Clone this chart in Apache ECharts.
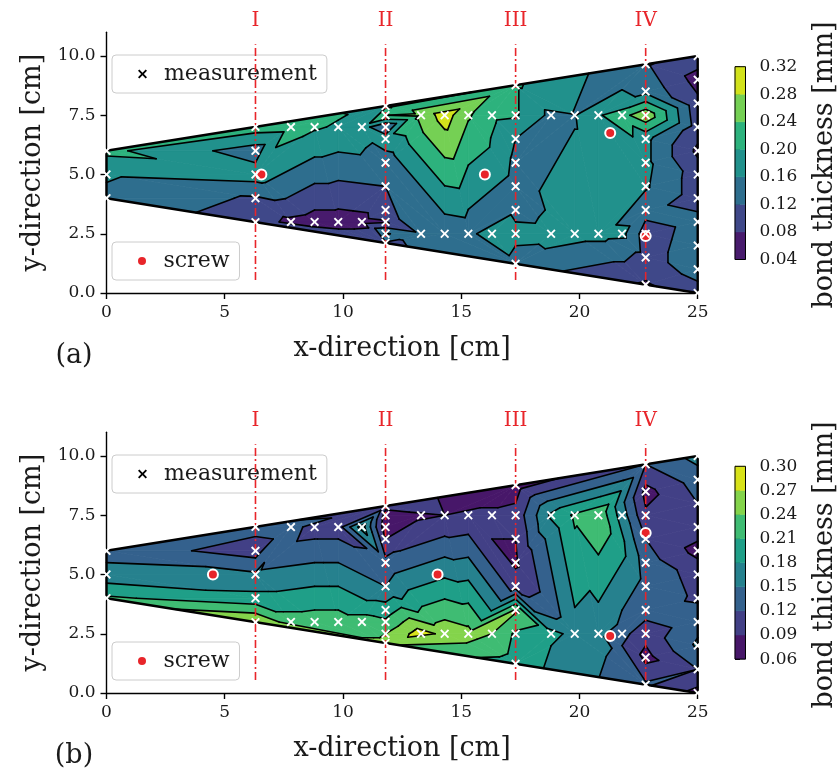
<!DOCTYPE html>
<html><head><meta charset="utf-8">
<script src="https://cdn.jsdelivr.net/npm/echarts@6/dist/echarts.min.js"></script>
<style>html,body{margin:0;padding:0;background:#fff}#c{width:838px;height:780px}</style>
</head><body><div id="c"></div>
<script>
// ---------- data ----------
const ptX = [
  0,0,0,
  6.3,6.3,6.3,6.3,6.3,
  7.8,8.8,9.8,10.8,
  7.8,8.8,9.8,10.8,
  11.8,11.8,11.8,11.8,11.8,11.8,11.8,11.8,11.8,11.8,
  13.3,14.3,15.3,16.3,
  13.3,14.3,15.3,16.3,
  17.3,17.3,17.3,17.3,17.3,17.3,17.3,17.3,
  18.8,19.8,20.8,21.8,
  18.8,19.8,20.8,21.8,
  22.8,22.8,22.8,22.8,22.8,22.8,22.8,22.8,22.8,22.8,
  25,25,25,25,25,25,25,25,25,25,25
];
const ptY = [
  4,5,6,
  2.99,4,5,6,7.01,
  3,3,3,3,
  7,7,7,7,
  2.11,2.5,3,3.5,4.5,5.5,6.5,7,7.5,7.89,
  2.5,2.5,2.5,2.5,
  7.5,7.5,7.5,7.5,
  1.23,2.5,3.5,4.5,5.5,6.5,7.5,8.77,
  2.5,2.5,2.5,2.5,
  7.5,7.5,7.5,7.5,
  0.35,1.5,2.5,3.5,4.5,5.5,6.5,7.5,8.5,9.65,
  0,1,2,3,4,5,6,7,8,9,10
];
const thickA = [
  0.150,0.165,0.210,
  0.100,0.115,0.180,0.140,0.220,
  0.070,0.062,0.062,0.066,
  0.215,0.205,0.195,0.180,
  0.115,0.165,0.075,0.115,0.120,0.135,0.185,0.120,0.240,0.190,
  0.128,0.132,0.138,0.200,
  0.250,0.300,0.245,0.210,
  0.145,0.170,0.150,0.145,0.150,0.160,0.205,0.205,
  0.168,0.175,0.175,0.172,
  0.150,0.158,0.195,0.225,
  0.075,0.105,0.100,0.135,0.165,0.170,0.170,0.270,0.150,0.125,
  0.100,0.140,0.140,0.135,0.100,0.100,0.072,0.100,0.090,0.065,0.100
];
const thickB = [
  0.215,0.160,0.140,
  0.270,0.190,0.155,0.105,0.130,
  0.225,0.225,0.225,0.225,
  0.135,0.105,0.105,0.195,
  0.245,0.240,0.215,0.195,0.150,0.130,0.090,0.070,0.075,0.100,
  0.285,0.260,0.250,0.240,
  0.085,0.090,0.095,0.095,
  0.195,0.205,0.245,0.105,0.085,0.090,0.100,0.075,
  0.190,0.170,0.160,0.130,
  0.185,0.215,0.235,0.165,
  0.125,0.080,0.100,0.135,0.140,0.135,0.120,0.095,0.080,0.120,
  0.080,0.120,0.155,0.140,0.115,0.110,0.080,0.105,0.120,0.135,0.160
];
const screwAx = [6.55, 16.0, 21.3, 22.8];
const screwAy = [5.0, 5.0, 6.75, 2.4];
const screwBx = [4.5, 14.0, 21.3, 22.8];
const screwBy = [5.0, 5.0, 2.4, 6.75];
const edgeX = [0, 0, 25, 25, 0];
const edgeY = [4, 6, 10, 0, 4];
const lineX = [6.3, 11.8, 17.3, 22.8];
const lineNames = ['I', 'II', 'III', 'IV'];
const levelsA = [0.04,0.08,0.12,0.16,0.20,0.24,0.28,0.32];
const colorsA = ['#481b6d','#3f4889','#2e6e8e','#21918c','#2db27d','#75d054','#d2e21b'];
const levelsB = [0.06,0.09,0.12,0.15,0.18,0.21,0.24,0.27,0.30];
const colorsB = ['#471769','#424086','#34618d','#26818e','#1f9f88','#3fbc73','#84d44b','#d8e219'];
const xTicks = [0, 5, 10, 15, 20, 25];
const yTicks = [0, 2.5, 5, 7.5, 10];

// ---------- helpers ----------
const FONT = 'DejaVu Serif';
const RED = '#e8252a';
const TXT = '#1a1a1a';
const CROSS = 'path://M1.5,0L5,3.5L8.5,0L10,1.5L6.5,5L10,8.5L8.5,10L5,6.5L1.5,10L0,8.5L3.5,5L0,1.5Z';

function delaunay(xs, ys) {
  const n = xs.length;
  const P = xs.map((x, i) => [x, ys[i]]);
  const minX = Math.min(...xs), maxX = Math.max(...xs), minY = Math.min(...ys), maxY = Math.max(...ys);
  const d = Math.max(maxX - minX, maxY - minY) * 50, cx = (minX + maxX) / 2, cy = (minY + maxY) / 2;
  P.push([cx - 2 * d, cy - d], [cx + 2 * d, cy - d], [cx, cy + 2 * d]);
  function mk(a, b, c) {
    const [ax, ay] = P[a], [bx, by] = P[b], [qx, qy] = P[c];
    const D = 2 * (ax * (by - qy) + bx * (qy - ay) + qx * (ay - by));
    const a2 = ax * ax + ay * ay, b2 = bx * bx + by * by, c2 = qx * qx + qy * qy;
    const ux = (a2 * (by - qy) + b2 * (qy - ay) + c2 * (ay - by)) / D;
    const uy = (a2 * (qx - bx) + b2 * (ax - qx) + c2 * (bx - ax)) / D;
    return { v: [a, b, c], ux, uy, r2: (ax - ux) ** 2 + (ay - uy) ** 2 };
  }
  let tris = [mk(n, n + 1, n + 2)];
  for (let i = 0; i < n; i++) {
    const [x, y] = P[i];
    const bad = [], keep = [];
    for (const t of tris) {
      const dd = (x - t.ux) ** 2 + (y - t.uy) ** 2;
      (dd < t.r2 * (1 - 1e-12) ? bad : keep).push(t);
    }
    const edges = new Map();
    for (const t of bad) for (let k = 0; k < 3; k++) {
      const a = t.v[k], b = t.v[(k + 1) % 3];
      const key = a < b ? a + '_' + b : b + '_' + a;
      edges.set(key, edges.has(key) ? null : [a, b]);
    }
    for (const e of edges.values()) if (e) keep.push(mk(e[0], e[1], i));
    tris = keep;
  }
  return tris.filter(t => t.v.every(k => k < n)).map(t => t.v);
}

function clipHalf(poly, f) {
  const out = [];
  for (let i = 0; i < poly.length; i++) {
    const a = poly[i], b = poly[(i + 1) % poly.length];
    const fa = f(a), fb = f(b);
    if (fa >= 0) out.push(a);
    if ((fa >= 0) !== (fb >= 0)) {
      const t = fa / (fa - fb);
      out.push([a[0] + t * (b[0] - a[0]), a[1] + t * (b[1] - a[1]), a[2] + t * (b[2] - a[2])]);
    }
  }
  return out;
}

function triData(vals) {
  return delaunay(ptX, ptY).map(t => [
    ptX[t[0]], ptY[t[0]], ptX[t[1]], ptY[t[1]], ptX[t[2]], ptY[t[2]],
    vals[t[0]], vals[t[1]], vals[t[2]]
  ]);
}

function triPts(api) {
  return [0, 1, 2].map(k => [api.value(2 * k), api.value(2 * k + 1), api.value(6 + k)]);
}

function fillRender(levels, colors) {
  return function (params, api) {
    const P = triPts(api);
    const children = [];
    for (let k = 0; k < colors.length; k++) {
      const lo = k === 0 ? -Infinity : levels[k];
      const hi = k === colors.length - 1 ? Infinity : levels[k + 1];
      let poly = clipHalf(P, p => p[2] - lo);
      if (poly.length) poly = clipHalf(poly, p => hi - p[2]);
      if (poly.length >= 3) {
        children.push({
          type: 'polygon',
          shape: { points: poly.map(p => api.coord([p[0], p[1]])) },
          style: { fill: colors[k], stroke: colors[k], lineWidth: 0.8 }
        });
      }
    }
    return { type: 'group', children };
  };
}

function lineRender(levels) {
  return function (params, api) {
    const P = triPts(api);
    const children = [];
    for (let k = 1; k < levels.length - 1; k++) {
      const L = levels[k];
      const pts = [];
      for (let e = 0; e < 3; e++) {
        const a = P[e], b = P[(e + 1) % 3];
        const fa = a[2] - L, fb = b[2] - L;
        if ((fa >= 0) !== (fb >= 0)) {
          const t = fa / (fa - fb);
          pts.push(api.coord([a[0] + t * (b[0] - a[0]), a[1] + t * (b[1] - a[1])]));
        }
      }
      if (pts.length === 2) {
        children.push({
          type: 'line',
          shape: { x1: pts[0][0], y1: pts[0][1], x2: pts[1][0], y2: pts[1][1] },
          style: { stroke: '#000', lineWidth: 1.6, lineCap: 'round' }
        });
      }
    }
    return { type: 'group', children };
  };
}

function redRender(params, api) {
  const x = api.value(0);
  const p0 = api.coord([x, api.value(1)]), p1 = api.coord([x, api.value(2)]), pl = api.coord([x, api.value(3)]);
  return {
    type: 'group',
    children: [
      { type: 'line', shape: { x1: p0[0], y1: p0[1], x2: p1[0], y2: p1[1] },
        style: { stroke: RED, lineWidth: 1.6, lineDash: [8, 3, 2, 3] } },
      { type: 'text', x: pl[0], y: pl[1],
        style: { text: lineNames[params.dataIndex], fill: RED, font: '20px "' + FONT + '"', align: 'center', verticalAlign: 'middle' } }
    ]
  };
}

function cbRender(colors) {
  return function (params, api) {
    const p0 = api.coord([api.value(0), api.value(1)]);
    const p1 = api.coord([api.value(2), api.value(3)]);
    return { type: 'rect', shape: { x: p0[0], y: p1[1], width: p1[0] - p0[0], height: p0[1] - p1[1] },
      style: { fill: colors[params.dataIndex], stroke: colors[params.dataIndex], lineWidth: 0.5 } };
  };
}
function cbBorder(params, api) {
  const p0 = api.coord([api.value(0), api.value(1)]);
  const p1 = api.coord([api.value(2), api.value(3)]);
  return { type: 'rect', shape: { x: p0[0], y: p1[1], width: p1[0] - p0[0], height: p0[1] - p1[1] },
    style: { fill: 'none', stroke: '#000', lineWidth: 1 } };
}

// ---------- layout ----------
const GL = 106.5, GW = 591.2, GH = 260.7;
const tops = [32.3, 432.3];
const cbTops = [66.7, 466.3];
const CBH = 192.8;

function plotAxes(gi) {
  return {
    x: {
      gridIndex: gi, type: 'value', min: 0, max: 25, interval: 5,
      axisLine: { show: true, onZero: false, lineStyle: { color: '#000', width: 1.4 } },
      axisTick: { show: true, length: 6, customValues: xTicks, lineStyle: { color: '#000', width: 1.4 } },
      axisLabel: { customValues: xTicks, color: TXT, fontFamily: FONT, fontSize: 17, margin: 11 },
      splitLine: { show: false },
      name: 'x-direction [cm]', nameLocation: 'middle', nameGap: 42,
      nameTextStyle: { fontFamily: FONT, fontSize: 27, color: TXT }
    },
    y: {
      gridIndex: gi, type: 'value', min: 0, max: 11,
      axisLine: { show: true, onZero: false, lineStyle: { color: '#000', width: 1.4 } },
      axisTick: { show: true, length: 6, customValues: yTicks, lineStyle: { color: '#000', width: 1.4 } },
      axisLabel: { customValues: yTicks, formatter: v => Number(v).toFixed(1), color: TXT, fontFamily: FONT, fontSize: 17, margin: 11 },
      splitLine: { show: false },
      name: 'y-direction [cm]', nameLocation: 'middle', nameGap: 58,
      nameTextStyle: { fontFamily: FONT, fontSize: 27, color: TXT }
    }
  };
}
function cbAxes(gi, levels) {
  return {
    x: { gridIndex: gi, type: 'value', min: 0, max: 1, show: false },
    y: {
      gridIndex: gi, type: 'value', position: 'right', min: levels[0], max: levels[levels.length - 1],
      axisLine: { show: true, lineStyle: { color: '#000', width: 1 } },
      axisTick: { show: true, length: 5, customValues: levels, lineStyle: { color: '#000', width: 1 } },
      axisLabel: { customValues: levels, formatter: v => Number(v).toFixed(2), color: TXT, fontFamily: FONT, fontSize: 17, margin: 14 },
      splitLine: { show: false }
    }
  };
}
const ax0 = plotAxes(0), ax1 = plotAxes(1), ax2 = cbAxes(2, levelsA), ax3 = cbAxes(3, levelsB);

function panelSeries(pi, vals, levels, colors, sx, sy) {
  const tris = triData(vals);
  return [
    { type: 'custom', xAxisIndex: pi, yAxisIndex: pi, z: 1, silent: true, renderItem: fillRender(levels, colors),
      encode: { x: [0, 2, 4], y: [1, 3, 5] }, data: tris },
    { type: 'custom', xAxisIndex: pi, yAxisIndex: pi, z: 2, silent: true, renderItem: lineRender(levels),
      encode: { x: [0, 2, 4], y: [1, 3, 5] }, data: tris },
    { type: 'line', xAxisIndex: pi, yAxisIndex: pi, z: 3, silent: true, clip: false, symbol: 'none',
      lineStyle: { color: '#000', width: 2.4 }, data: edgeX.map((x, i) => [x, edgeY[i]]) },
    { type: 'custom', xAxisIndex: pi, yAxisIndex: pi, z: 4, silent: true, renderItem: redRender,
      encode: { x: 0, y: [1, 2] }, data: lineX.map(x => [x, 0.55, 10.5, 11.5]) },
    { type: 'scatter', name: 'screw', xAxisIndex: pi, yAxisIndex: pi, z: 5, silent: true, clip: false,
      symbol: 'circle', symbolSize: 10,
      itemStyle: { color: RED, borderColor: '#fff', borderWidth: 2, opacity: 1 },
      data: sx.map((x, i) => [x, sy[i]]) },
    { type: 'scatter', name: 'measurement', xAxisIndex: pi, yAxisIndex: pi, z: 6, silent: true, clip: true,
      symbol: CROSS, symbolSize: 9, itemStyle: { color: '#fff', opacity: 1 },
      data: ptX.map((x, i) => [x, ptY[i]]) }
  ];
}

function legendBox(name, top, icon, color, h, w) {
  return {
    show: true, selectedMode: false, left: 112, top: top, orient: 'horizontal',
    padding: [8, w, 8, 26], itemWidth: 33, itemHeight: h, itemGap: 0,
    backgroundColor: 'rgba(255,255,255,0.85)', borderColor: '#cccccc', borderWidth: 1, borderRadius: 4,
    textStyle: { fontFamily: FONT, fontSize: 22, color: TXT },
    data: [{ name: name, icon: icon, itemStyle: { color: color, borderWidth: 0 } }]
  };
}

const option = {
  animation: false,
  backgroundColor: '#fff',
  grid: [
    { left: GL, top: tops[0], width: GW, height: GH, outerBoundsMode: 'none' },
    { left: GL, top: tops[1], width: GW, height: GH, outerBoundsMode: 'none' },
    { left: 735, top: cbTops[0], width: 10.5, height: CBH, outerBoundsMode: 'none' },
    { left: 735, top: cbTops[1], width: 10.5, height: CBH, outerBoundsMode: 'none' }
  ],
  xAxis: [ax0.x, ax1.x, ax2.x, ax3.x],
  yAxis: [ax0.y, ax1.y, ax2.y, ax3.y],
  legend: [
    legendBox('measurement', 55, CROSS, '#000', 9, 10),
    legendBox('screw', 242, 'circle', RED, 8, 10),
    legendBox('measurement', 455, CROSS, '#000', 9, 10),
    legendBox('screw', 642, 'circle', RED, 8, 10)
  ],
  graphic: [
    { type: 'text', x: 74, y: 356, style: { text: '(a)', font: '27px "' + FONT + '"', fill: TXT, align: 'center', verticalAlign: 'middle' } },
    { type: 'text', x: 74, y: 756, style: { text: '(b)', font: '27px "' + FONT + '"', fill: TXT, align: 'center', verticalAlign: 'middle' } },
    { type: 'text', x: 825, y: 165, rotation: Math.PI / 2, style: { text: 'bond thickness [mm]', font: '27px "' + FONT + '"', fill: TXT, align: 'center', verticalAlign: 'middle' } },
    { type: 'text', x: 825, y: 565, rotation: Math.PI / 2, style: { text: 'bond thickness [mm]', font: '27px "' + FONT + '"', fill: TXT, align: 'center', verticalAlign: 'middle' } }
  ],
  series: [
    ...panelSeries(0, thickA, levelsA, colorsA, screwAx, screwAy),
    ...panelSeries(1, thickB, levelsB, colorsB, screwBx, screwBy),
    { type: 'custom', xAxisIndex: 2, yAxisIndex: 2, silent: true, renderItem: cbRender(colorsA), encode: { x: [0, 2], y: [1, 3] },
      data: colorsA.map((c, k) => [0, levelsA[k], 1, levelsA[k + 1]]) },
    { type: 'custom', xAxisIndex: 2, yAxisIndex: 2, silent: true, z: 3, renderItem: cbBorder, encode: { x: [0, 2], y: [1, 3] },
      data: [[0, levelsA[0], 1, levelsA[levelsA.length - 1]]] },
    { type: 'custom', xAxisIndex: 3, yAxisIndex: 3, silent: true, renderItem: cbRender(colorsB), encode: { x: [0, 2], y: [1, 3] },
      data: colorsB.map((c, k) => [0, levelsB[k], 1, levelsB[k + 1]]) },
    { type: 'custom', xAxisIndex: 3, yAxisIndex: 3, silent: true, z: 3, renderItem: cbBorder, encode: { x: [0, 2], y: [1, 3] },
      data: [[0, levelsB[0], 1, levelsB[levelsB.length - 1]]] }
  ]
};

const chart = echarts.init(document.getElementById('c'), null, { renderer: 'canvas' });
chart.setOption(option);
</script>
</body></html>
